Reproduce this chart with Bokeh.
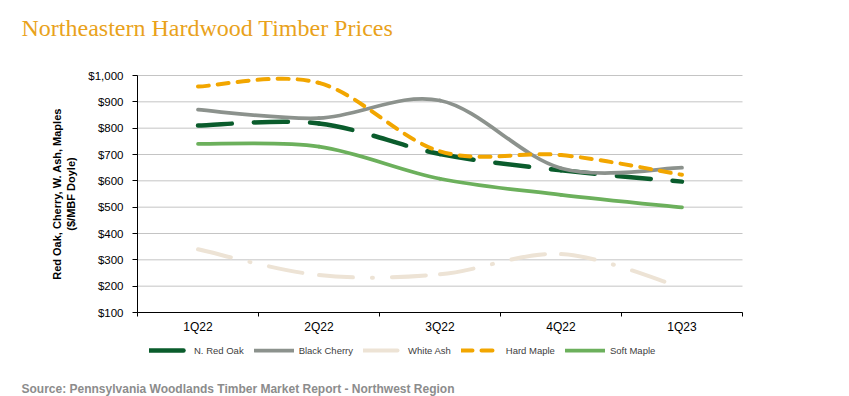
from bokeh.plotting import figure
from bokeh.models import (Range1d, FixedTicker, NumeralTickFormatter, Legend,
                          LegendItem, Label, ColumnDataSource)
from bokeh.embed import file_html
from bokeh.resources import INLINE

# ---- data ----
quarters = ["1Q22", "2Q22", "3Q22", "4Q22", "1Q23"]
red_oak = [810, 818, 702, 640, 597]
black_cherry = [870, 838, 905, 648, 650]
white_ash = [340, 242, 245, 322, 195]
hard_maple = [958, 972, 712, 698, 623]
soft_maple = [740, 730, 608, 547, 499]
y_ticks = [100, 200, 300, 400, 500, 600, 700, 800, 900, 1000]

series = [
    ("N. Red Oak", red_oak, "#0A5C2C", 4.5, "34 22"),
    ("Black Cherry", black_cherry, "#8C928D", 3.75, "solid"),
    ("White Ash", white_ash, "#EDE3D5", 4.0, "34 19 1 19"),
    ("Hard Maple", hard_maple, "#F2A600", 4.0, "11 9"),
    ("Soft Maple", soft_maple, "#6CB05C", 3.75, "solid"),
]

# ---- layout geometry (page pixels) ----
W, H = 849, 396
PL, PR, PT, PB = 137, 742, 75, 312     # plot-area edges
n = len(quarters)
ymin, ymax = y_ticks[0], y_ticks[-1]
xs = (PR - PL) / n                      # px per category
ys = (PB - PT) / (ymax - ymin)          # px per value unit

# the frame covers the whole canvas; axes are pinned with fixed_location
p = figure(width=W, height=H, output_backend="svg", toolbar_location=None,
           x_range=Range1d(-PL / xs, (W - PL) / xs),
           y_range=Range1d(ymin - (H - PB) / ys, ymax + PT / ys),
           min_border=0)
p.outline_line_color = None
p.background_fill_color = "white"
p.border_fill_color = "white"
p.xgrid.grid_line_color = None
p.ygrid.grid_line_color = None

# horizontal gridlines at the y tick values, spanning the category area
p.segment(x0=0, x1=n, y0=y_ticks, y1=y_ticks, line_color="#C4C4C4",
          line_width=1)

# x axis: labels at category centres, tick marks between categories
centres = [i + 0.5 for i in range(n)]
p.xaxis.fixed_location = ymin
p.xaxis.bounds = (0, n)
p.xaxis.ticker = FixedTicker(ticks=centres, minor_ticks=list(range(n + 1)))
p.xaxis.major_label_overrides = {c: q for c, q in zip(centres, quarters)}
p.xaxis.major_tick_line_color = None
p.xaxis.major_tick_out = 0
p.xaxis.major_tick_in = 0
p.xaxis.minor_tick_line_color = "black"
p.xaxis.minor_tick_out = 4
p.xaxis.minor_tick_in = 0
p.xaxis.axis_line_color = "black"
p.xaxis.major_label_standoff = 3
p.xaxis.major_label_text_font = "Liberation Sans"
p.xaxis.major_label_text_font_size = "12px"
p.xaxis.major_label_text_color = "#000000"

# y axis
p.yaxis.fixed_location = 0
p.yaxis.bounds = (ymin, ymax)
p.yaxis.ticker = FixedTicker(ticks=y_ticks)
p.yaxis.formatter = NumeralTickFormatter(format="$0,0")
p.yaxis.major_tick_out = 5
p.yaxis.major_tick_in = 0
p.yaxis.minor_tick_line_color = None
p.yaxis.major_tick_line_color = "black"
p.yaxis.axis_line_color = "black"
p.yaxis.major_label_standoff = 9
p.yaxis.major_label_text_font = "Liberation Sans"
p.yaxis.major_label_text_font_size = "11.5px"
p.yaxis.major_label_text_color = "#000000"
p.yaxis.axis_label = "Red Oak, Cherry, W. Ash, Maples\n($/MBF Doyle)"
p.yaxis.axis_label_text_font = "Liberation Sans"
p.yaxis.axis_label_text_font_size = "11px"
p.yaxis.axis_label_text_font_style = "bold"
p.yaxis.axis_label_text_color = "#000000"
p.yaxis.axis_label_standoff = 8


def smooth_source(vals):
    m = len(vals)
    pts = [(i + 0.5, v) for i, v in enumerate(vals)]
    d = dict(x0=[], y0=[], x1=[], y1=[], cx0=[], cy0=[], cx1=[], cy1=[])
    for i in range(m - 1):
        a = pts[max(i - 1, 0)]
        b = pts[i]
        c = pts[i + 1]
        e = pts[min(i + 2, m - 1)]
        d["x0"].append(b[0]); d["y0"].append(b[1])
        d["x1"].append(c[0]); d["y1"].append(c[1])
        d["cx0"].append(b[0] + (c[0] - a[0]) / 6.0)
        d["cy0"].append(b[1] + (c[1] - a[1]) / 6.0)
        d["cx1"].append(c[0] - (e[0] - b[0]) / 6.0)
        d["cy1"].append(c[1] - (e[1] - b[1]) / 6.0)
    return ColumnDataSource(d)


items = []
for name, vals, color, width, dash in series:
    r = p.bezier(x0="x0", y0="y0", x1="x1", y1="y1", cx0="cx0", cy0="cy0",
                 cx1="cx1", cy1="cy1", source=smooth_source(vals),
                 line_color=color, line_width=width, line_dash=dash,
                 line_cap="round", line_join="round")
    items.append(LegendItem(label=name, renderers=[r]))

legend = Legend(items=items, orientation="horizontal", location=(149, H - 356),
                glyph_width=40, glyph_height=12, label_height=12,
                label_standoff=5, spacing=10, padding=0, margin=0,
                border_line_color=None, background_fill_alpha=0,
                label_text_font="Liberation Sans", label_text_font_size="9.5px",
                label_text_color="#404040")
p.add_layout(legend, "center")

# texts in screen pixels from the canvas' bottom-left corner
title = Label(x=21, y=H - 27, x_units="screen", y_units="screen",
              text="Northeastern Hardwood Timber Prices",
              text_font="Liberation Serif", text_font_size="24px",
              text_color="#E9A21B", text_baseline="alphabetic")
p.add_layout(title)

source = Label(x=21, y=H - 388, x_units="screen", y_units="screen",
               text="Source: Pennsylvania Woodlands Timber Market Report - Northwest Region",
               text_font="Liberation Sans", text_font_size="12px",
               text_font_style="bold", text_color="#8C8C8C",
               text_baseline="alphabetic")
p.add_layout(source)

open("out.html", "w").write(file_html(p, INLINE))
